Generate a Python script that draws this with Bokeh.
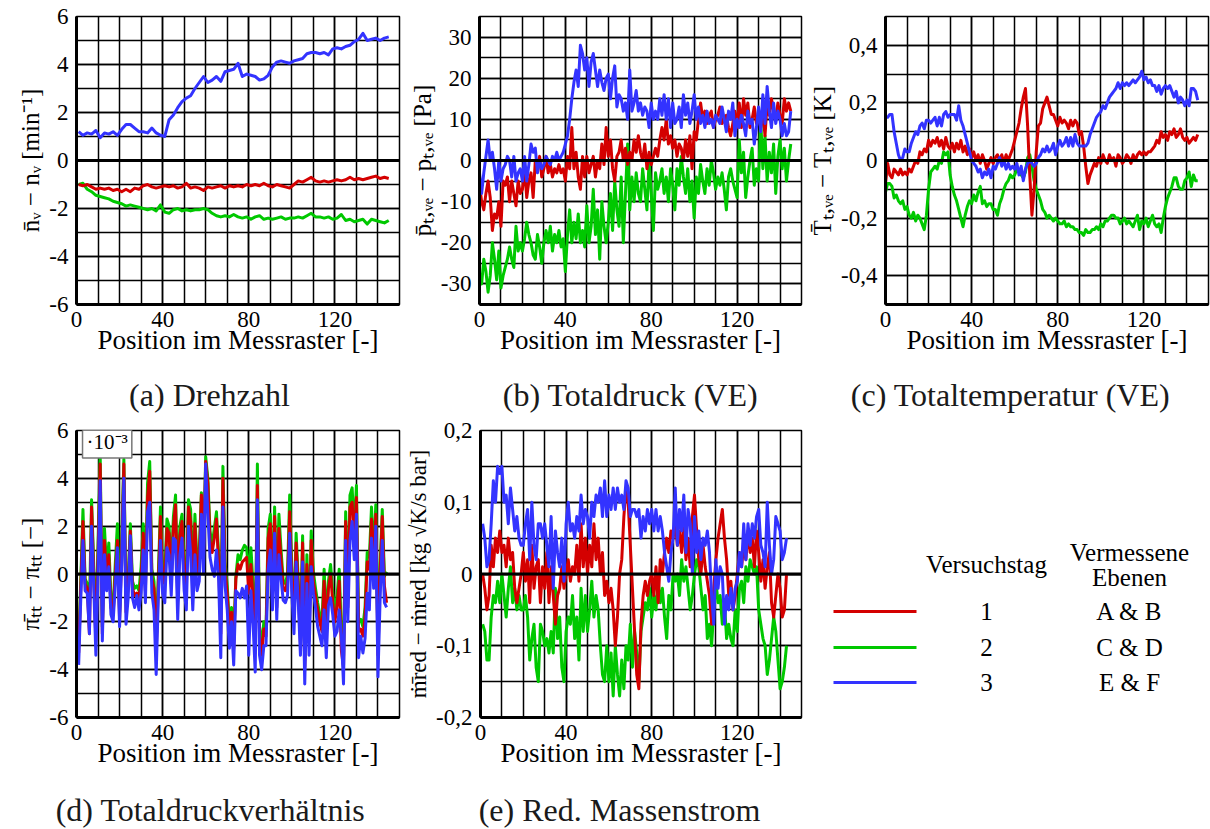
from bokeh.plotting import figure
from bokeh.models import FixedTicker, CustomJSTickFormatter, Span, Label, Range1d
from bokeh.layouts import row, column
from bokeh.embed import file_html
from bokeh.resources import INLINE
from bokeh.core.properties import value

FONT = "Liberation Serif"
RED, GREEN, BLUE = "#d40000", "#00c800", "#3333ff"

# ---------------- legend / caption texts ----------------
days = ["1", "2", "3"]
planes = ["A & B", "C & D", "E & F"]
colors = [RED, GREEN, BLUE]
captions_top = ["(a) Drehzahl", "(b) Totaldruck (VE)", "(c) Totaltemperatur (VE)"]
captions_bottom = ["(d) Totaldruckverhältnis", "(e) Red. Massenstrom"]

# ---------------- (a) Drehzahl, every 2nd position ----------------
a_blue = [1.2, 1.05, 1.15, 1.1, 1.25, 0.95, 1.15, 1.1, 1.2, 1.05, 1.3, 1.5, 1.5, 1.35, 1.2, 1.2, 1.15, 1.35, 1.15, 1.05,
          1.0, 1.7, 1.9, 2.2, 2.45, 2.6, 2.7, 3.0, 3.25, 3.5, 3.25, 3.35, 3.5, 3.3, 3.7, 3.75, 3.8, 4.05, 3.5, 3.6,
          3.55, 3.5, 3.35, 3.4, 3.55, 3.9, 4.1, 4.15, 4.1, 4.05, 4.15, 4.2, 4.25, 4.45, 4.5, 4.5, 4.45, 4.5, 4.4, 4.65,
          4.7, 4.65, 4.75, 4.8, 4.95, 5.05, 5.3, 5.0, 5.05, 5.1, 5.0, 5.1, 5.15]
a_red = [-1.0, -1.05, -1.0, -1.1, -1.2, -1.15, -1.2, -1.15, -1.25, -1.2, -1.3, -1.2, -1.3, -1.15, -1.2, -1.05, -1.0, -1.1, -1.15, -1.1,
         -1.05, -1.1, -1.05, -1.15, -1.1, -0.95, -1.15, -1.1, -1.15, -1.25, -1.1, -1.15, -1.1, -1.05, -1.15, -1.05, -1.1, -1.05, -1.1, -1.0,
         -1.05, -1.0, -1.05, -0.95, -1.05, -1.1, -1.0, -1.05, -1.1, -1.15, -1.0, -0.85, -0.9, -0.8, -0.7, -0.85, -0.9, -0.85, -0.9, -0.85,
         -0.8, -0.85, -0.8, -0.7, -0.8, -0.75, -0.8, -0.75, -0.7, -0.65, -0.75, -0.7, -0.75]
a_green = [-1.0, -0.95, -1.2, -1.3, -1.45, -1.5, -1.55, -1.6, -1.7, -1.75, -1.8, -1.9, -1.85, -1.9, -1.95, -2.0, -2.05, -2.0, -2.1, -1.85,
           -2.15, -2.2, -2.05, -2.0, -2.1, -2.05, -2.1, -2.05, -2.05, -2.0, -2.05, -2.2, -2.3, -2.35, -2.3, -2.35, -2.25, -2.35, -2.4, -2.35,
           -2.45, -2.35, -2.3, -2.45, -2.4, -2.45, -2.4, -2.35, -2.45, -2.4, -2.4, -2.35, -2.4, -2.3, -2.2, -2.35, -2.35, -2.4, -2.35, -2.45,
           -2.4, -2.25, -2.5, -2.45, -2.55, -2.5, -2.45, -2.65, -2.45, -2.5, -2.55, -2.6, -2.5]

# ---------------- (b) Totaldruck (VE), positions 0..145 ----------------
b_blue = [-3, -8, -3, 1, 5, 0, 2, -2, -7, 0, -5, -2, -1, 1, 0, -4, 1, -5, -3, -2,
          -5, 1, -5, -1, 4, 2, 3, -3, 0, -2, -1, 1, 0, -1, 1, 0, 2, 0, 1, 2,
          4, 6, 10, 15, 19, 22, 18, 28, 26, 22, 25, 18, 24, 26, 22, 18, 22, 19, 17, 20,
          21, 15, 20, 23, 13, 16, 15, 12, 14, 10, 22, 12, 14, 17, 12, 14, 11, 13, 12, 8,
          14, 10, 12, 10, 15, 11, 16, 10, 15, 8, 14, 9, 10, 13, 8, 16, 11, 14, 9, 12,
          16, 10, 13, 9, 11, 8, 12, 9, 10, 8, 11, 10, 9, 13, 10, 7, 12, 10, 14, 6,
          10, 8, 11, 9, 6, 12, 9, 10, 4, 8, 13, 7, 16, 9, 18, 12, 8, 14, 9, 12,
          10, 6, 9, 6, 7, 12]
b_red = [-6, -10, -12, -8, -5, -9, -17, -13, -14, -10, -16, -5, -6, -4, -10, -5, -8, -11, -5, -8,
         -7, -2, -9, -5, -3, -9, 0, -2, 1, -4, -2, 1, -3, -1, -4, -2, -3, -1, -3, -2,
         -5, 1, -2, 8, -2, 2, -4, -7, 1, -4, 1, -3, -1, 1, -4, 0, -2, 4, -1, 8,
         1, 5, -2, -5, 1, 2, 5, 0, 3, -1, 2, 0, 5, 2, 6, 2, 0, 4, -2, 2,
         -1, 1, 3, 1, 5, 8, 5, 10, 4, 6, 3, 5, 1, 4, 3, 0, 5, 1, 6, -2,
         7, 5, 10, 14, 10, 12, 9, 11, 12, 8, 10, 11, 13, 9, 10, 11, 8, 6, 9, 12,
         8, 14, 8, 15, 11, 14, 8, 10, 13, 9, 11, 8, 12, 6, 14, 11, 15, 12, 10, 14,
         11, 9, 15, 12, 14, 12]
b_green = [-28, -30, -24, -27, -32, -28, -20, -24, -29, -22, -31, -28, -26, -24, -21, -24, -26, -16, -22, -20,
           -22, -19, -15, -18, -20, -23, -24, -18, -21, -25, -20, -17, -20, -16, -22, -18, -20, -17, -21, -19,
           -27, -18, -12, -20, -15, -19, -13, -20, -17, -21, -11, -20, -16, -7, -18, -12, -24, -10, -16, -20,
           -15, -8, -17, -5, -12, -16, -4, -20, -8, 4, -12, -4, -10, -3, -8, -10, -2, -7, -12, 0,
           -8, -17, -3, -7, -5, -2, -8, -4, -10, -2, -6, -12, -2, -6, 1, -4, -8, -2, -10, -5,
           -14, -4, -8, -1, -5, -8, -2, -6, 0, -3, -7, -4, -6, -3, -7, -12, -4, -2, -5, -7,
           -9, 5, -3, 2, -9, -4, 0, 3, -6, -2, -5, 10, -2, 6, -5, 2, -3, 4, -8, 1,
           5, -2, 3, -5, 0, 4]

# ---------------- (c) Totaltemperatur (VE), positions 0..145 ----------------
c_blue = [0.15, 0.15, 0.16, 0.16, 0.10, 0.06, 0.02, 0.0, 0.01, 0.04, 0.03,
          0.03, 0.06, 0.08, 0.10, 0.09, 0.12, 0.13, 0.11, 0.14, 0.14,
          0.13, 0.14, 0.15, 0.12, 0.15, 0.12, 0.16, 0.17, 0.15, 0.16,
          0.16, 0.16, 0.14, 0.19, 0.14, 0.12, 0.09, 0.06, 0.03, 0.0,
          -0.01, -0.02, -0.04, -0.03, -0.06, -0.04, -0.05, -0.03, -0.06, -0.02,
          -0.03, -0.01, 0.01, -0.02, 0.0, -0.03, -0.01, -0.03, -0.02, -0.03,
          -0.01, -0.05, -0.02, -0.07, -0.03, -0.01, 0.0, -0.01, -0.02, -0.01,
          0.01, 0.02, 0.04, 0.03, 0.05, 0.03, 0.04, 0.06, 0.02, 0.05,
          0.07, 0.05, 0.06, 0.08, 0.05, 0.08, 0.05, 0.09, 0.06, 0.05,
          0.05, 0.05, 0.05, 0.06, 0.09, 0.11, 0.13, 0.15, 0.16, 0.17,
          0.19, 0.18, 0.20, 0.22, 0.23, 0.24, 0.25, 0.27, 0.25, 0.27,
          0.26, 0.27, 0.26, 0.27, 0.28, 0.27, 0.28, 0.29, 0.31, 0.28,
          0.29, 0.27, 0.28, 0.26, 0.26, 0.24, 0.26, 0.23, 0.25, 0.26,
          0.25, 0.26, 0.24, 0.22, 0.24, 0.20, 0.22, 0.21, 0.19, 0.21,
          0.19, 0.25, 0.25, 0.24, 0.21]
c_red = [-0.08, -0.01, -0.05, -0.06, -0.03, -0.04, -0.05, -0.03, -0.05, -0.04, -0.05,
         -0.03, -0.04, -0.02, 0.0, -0.01, 0.03, 0.02, 0.04, 0.03, 0.07,
         0.05, 0.07, 0.06, 0.08, 0.05, 0.07, 0.04, 0.08, 0.05, 0.04,
         0.06, 0.03, 0.06, 0.04, 0.07, 0.03, 0.05, 0.02, 0.04, 0.01,
         0.03, 0.0, 0.02, -0.01, 0.02, 0.0, -0.03, -0.01, 0.01, -0.01,
         0.01, 0.02, 0.0, 0.02, -0.01, 0.02, 0.0, 0.02, 0.04, 0.07,
         0.10, 0.13, 0.18, 0.22, 0.25, 0.12, -0.05, -0.19, -0.10, 0.03,
         0.12, 0.13, 0.18, 0.20, 0.22, 0.19, 0.16, 0.16, 0.14, 0.12,
         0.15, 0.13, 0.14, 0.13, 0.11, 0.14, 0.12, 0.14, 0.13, 0.09,
         0.10, 0.05, -0.02, -0.08, -0.05, -0.03, -0.01, -0.02, 0.01, -0.01,
         0.02, 0.0, -0.01, 0.02, 0.0, 0.01, -0.02, 0.02, 0.01, -0.01,
         0.0, 0.02, 0.01, -0.01, 0.02, 0.0, 0.02, 0.03, 0.02, 0.03,
         0.02, 0.03, 0.03, 0.04, 0.05, 0.07, 0.06, 0.10, 0.08, 0.09,
         0.07, 0.10, 0.09, 0.11, 0.08, 0.09, 0.11, 0.08, 0.07, 0.08,
         0.06, 0.07, 0.08, 0.07, 0.09]
c_green = [-0.11, -0.08, -0.08, -0.09, -0.13, -0.12, -0.14, -0.15, -0.14, -0.17, -0.16,
           -0.19, -0.20, -0.18, -0.21, -0.19, -0.20, -0.22, -0.24, -0.19, -0.10,
           -0.04, -0.03, -0.02, -0.03, 0.0, -0.01, 0.03, 0.02, 0.03, -0.05,
           -0.09, -0.12, -0.14, -0.17, -0.20, -0.23, -0.19, -0.16, -0.14, -0.15,
           -0.12, -0.14, -0.11, -0.09, -0.15, -0.14, -0.16, -0.15, -0.15, -0.17,
           -0.17, -0.19, -0.15, -0.13, -0.10, -0.08, -0.07, -0.05, -0.06, -0.05,
           -0.03, -0.04, -0.05, -0.06, -0.04, 0.01, 0.02, -0.02, -0.07, -0.10,
           -0.12, -0.14, -0.17, -0.18, -0.20, -0.19, -0.20, -0.21, -0.20, -0.21,
           -0.22, -0.22, -0.21, -0.23, -0.22, -0.23, -0.23, -0.24, -0.24, -0.25,
           -0.25, -0.26, -0.24, -0.25, -0.25, -0.24, -0.24, -0.23, -0.24, -0.22,
           -0.23, -0.21, -0.21, -0.20, -0.19, -0.19, -0.20, -0.20, -0.22, -0.21,
           -0.20, -0.22, -0.21, -0.22, -0.23, -0.21, -0.19, -0.24, -0.21, -0.22,
           -0.20, -0.23, -0.21, -0.19, -0.22, -0.23, -0.22, -0.25, -0.20, -0.16,
           -0.13, -0.11, -0.09, -0.06, -0.06, -0.09, -0.10, -0.10, -0.07, -0.06,
           -0.04, -0.09, -0.05, -0.07, -0.07]

# ---------------- (d) Totaldruckverhaeltnis (x 1e-3), positions 1..144 ----------------
d_blue = [-3.8, -1.0, 1.4, -0.7, -0.8, -2.5, 2.0, -0.5, -3.4, 0.0,
          3.9, -2.8, 0.8, -0.7, 0.3, -1.7, -2.0, -0.5, 1.1, -2.2,
          0.5, 4.0, -2.1, -1.0, 1.6, -1.0, -1.4, -0.9, -1.5, -0.8,
          1.0, -1.2, 2.6, 3.0, -0.8, -1.5, -4.2, -1.0, 1.4, -0.8,
          -1.2, 1.1, 0.8, -0.9, 1.5, 1.4, -1.9, 0.8, 1.5, -0.7,
          -1.5, 2.0, 0.9, -1.5, 0.8, -0.7, -0.3, 2.5, 0.0, 4.6,
          2.5, 0.7, 0.2, -0.1, 1.0, -0.2, -3.5, 2.8, -0.5, -1.5,
          -3.1, -2.0, -3.8, -0.7, -0.8, -1.0, -0.6, -1.0, -0.5, -3.4,
          -0.7, -2.1, -4.1, 3.1, -3.4, -4.0, -3.0, -3.0, 0.2, 1.0,
          -1.5, 1.7, -1.9, 0.8, -0.2, -1.1, -1.2, -0.9, 1.7, -0.8,
          -2.5, 0.5, -1.2, -3.4, 0.5, -4.6, -0.4, -3.4, 0.3, -0.8,
          -1.4, -2.2, -2.6, -3.0, -1.5, -3.5, -1.3, -1.0, -1.7, -2.6,
          -2.4, -1.5, -2.6, -4.6, 1.4, -2.0, 1.4, 2.2, 0.6, 2.5,
          -3.5, -2.6, -3.3, -2.7, -0.8, -1.5, 1.5, -0.6, 2.0, -4.3,
          -1.0, 1.4, -1.2, -1.4]
d_red = [-3.3, -0.5, 2.2, -0.4, -0.6, -2.5, 2.8, 0.0, -2.8, 0.8,
         4.6, -2.5, 1.4, -0.2, 0.8, -1.4, -1.7, 0.0, 1.4, -1.9,
         1.0, 4.6, -1.6, -0.5, 1.8, -0.6, -0.9, -0.8, -1.0, -0.2,
         1.7, -0.7, 3.2, 4.3, -0.2, -0.6, -3.3, -0.4, 2.4, -0.3,
         -0.4, 1.9, 1.7, -0.4, 2.0, 2.9, -1.1, 1.6, 2.2, 0.0,
         -0.6, 2.8, 2.2, -0.5, 2.1, 0.0, 0.5, 3.3, 0.8, 4.7,
         3.8, 1.4, 0.9, 1.5, 2.3, 0.4, -2.5, 4.0, 0.2, -0.8,
         -2.4, -1.6, -3.1, -0.2, 0.4, 0.2, 0.5, 0.6, 0.7, -0.8,
         0.4, -1.0, -3.3, 3.7, -2.6, -3.4, -2.3, -2.6, 1.5, 2.1,
         -0.9, 2.4, -1.4, 1.9, 0.6, -0.6, -0.7, -0.3, 2.6, -0.3,
         -1.8, 1.3, -0.6, -2.9, 1.3, -3.9, 0.4, -2.8, 1.4, -0.3,
         -0.9, -1.5, -2.0, -2.4, -0.3, -2.4, -0.6, 0.0, -1.2, -2.0,
         -1.3, -0.3, -3.2, -3.9, 2.2, -1.4, 2.8, 3.0, 1.4, 3.2,
         -2.4, -2.3, -2.6, -1.8, 0.5, 0.2, 2.3, 0.2, 2.5, -3.4,
         0.0, 2.4, -0.5, -1.2]
d_green = [-3.0, -0.2, 2.7, -0.2, -0.4, -1.5, 3.1, 0.4, -2.5, 1.3,
           5.0, -2.2, 1.9, 0.2, 1.3, -1.0, -1.4, 0.4, 2.1, -1.6,
           1.5, 4.8, -1.2, -0.2, 2.1, -0.3, -0.6, -0.5, -0.7, 0.3,
           2.1, -0.3, 3.8, 4.7, 0.2, -0.3, -3.0, 0.0, 2.8, 0.1,
           0.0, 2.3, 2.0, 0.0, 2.4, 3.3, -0.8, 2.0, 2.5, 0.4,
           -0.2, 3.1, 2.7, -0.1, 2.5, 0.4, 0.9, 3.4, 1.1, 4.9,
           4.0, 1.8, 1.2, 1.9, 2.6, 0.8, -2.1, 4.5, 0.5, -0.5,
           -2.1, -1.4, -2.8, -0.1, 0.8, 0.6, 1.0, 1.2, 1.1, 0.0,
           1.1, -0.5, -3.0, 4.6, -2.2, -3.0, -2.0, -2.3, 1.9, 2.5,
           -0.6, 2.8, -1.0, 2.5, 1.0, -0.3, -0.4, 0.0, 3.3, 0.1,
           -1.5, 1.7, -0.3, -2.6, 1.6, -3.6, 0.8, -2.4, 1.8, 0.1,
           -0.6, -1.2, -1.7, -2.0, 0.2, -2.0, -0.3, 0.4, -0.8, -1.5,
           -0.9, 0.2, -2.4, -3.5, 2.6, -1.0, 3.3, 3.6, 1.8, 3.7,
           -2.0, -1.9, -2.2, -1.4, 0.9, 0.7, 2.8, 0.7, 2.9, -3.0,
           0.4, 2.7, -0.1, 0.1]

# ---------------- (e) Red. Massenstrom, positions 1..143 ----------------
e_blue = [0.07, 0.05, 0.01, 0.02, 0.07, 0.13, 0.10, 0.15, 0.14, 0.15,
          0.10, 0.11, 0.07, 0.12, 0.09, 0.06, 0.08, 0.05, 0.04, 0.04,
          0.07, 0.09, 0.02, 0.10, 0.04, 0.02, 0.07, 0.07, 0.05, 0.07,
          0.04, 0.01, 0.08, -0.02, 0.06, 0.03, 0.01, 0.05, -0.01, 0.07,
          0.10, 0.06, 0.07, 0.05, 0.08, 0.06, 0.11, 0.07, 0.09, 0.08,
          0.05, 0.10, 0.08, 0.11, 0.10, 0.12, 0.08, 0.13, 0.08, 0.11,
          0.09, 0.12, 0.09, 0.12, 0.10, 0.11, 0.09, 0.13, 0.12, 0.08,
          0.09, 0.09, 0.08, 0.09, 0.05, 0.08, 0.06, 0.09, 0.07, 0.09,
          0.06, 0.09, 0.06, 0.08, 0.06, 0.03, 0.01, -0.01, 0.03, 0.05,
          0.12, 0.04, 0.09, 0.06, 0.11, 0.03, 0.09, 0.07, 0.00, 0.08,
          0.03, 0.06, 0.02, 0.05, 0.04, 0.06, 0.03, -0.03, -0.07, 0.02,
          -0.02, 0.01, 0.00, -0.07, -0.03, -0.05, -0.02, -0.05, -0.02, -0.01,
          0.03, 0.01, 0.07, 0.02, 0.07, 0.04, 0.07, 0.05, 0.08, 0.09,
          0.04, 0.03, 0.01, 0.10, 0.04, 0.00, 0.02, 0.08, 0.07, 0.06,
          0.02, 0.03, 0.05]
e_red = [0.0, -0.02, -0.05, -0.03, 0.04, 0.01, 0.05, 0.03, 0.06, 0.03,
         0.04, 0.01, 0.05, 0.02, 0.03, -0.02, -0.04, -0.02, 0.0, 0.03,
         -0.01, 0.02, -0.04, 0.04, -0.02, 0.01, 0.02, -0.04, 0.01, -0.02,
         0.03, -0.04, 0.01, -0.03, -0.07, -0.03, -0.02, 0.01, -0.02, 0.0,
         0.02, -0.01, 0.01, 0.0, 0.04, -0.01, 0.07, 0.01, 0.05, 0.0,
         0.04, 0.01, 0.07, 0.02, 0.05, 0.0, 0.03, -0.03, -0.01, -0.04,
         -0.02, -0.05, -0.10, -0.06, 0.0, 0.02, 0.08, 0.12, 0.10, 0.04,
         -0.02, -0.08, -0.14, -0.16, -0.07, -0.03, -0.01, -0.03, -0.01, 0.0,
         -0.03, 0.01, -0.04, 0.02, 0.0, 0.03, 0.05, 0.03, 0.06, 0.05,
         0.07, 0.04, 0.06, 0.03, 0.07, 0.02, 0.05, 0.01, 0.08, 0.11,
         0.06, 0.02, 0.0, 0.04, 0.01, -0.01, -0.03, -0.07, -0.02, 0.02,
         0.05, 0.07, 0.09, 0.05, 0.02, -0.03, -0.01, -0.05, -0.03, 0.0,
         0.03, 0.01, 0.04, 0.02, 0.06, 0.03, 0.05, 0.01, 0.06, 0.03,
         -0.01, 0.02, -0.02, 0.01, 0.03, -0.04, -0.06, -0.03, 0.0, -0.02,
         -0.06, -0.05, 0.0]
e_green = [-0.07, -0.08, -0.12, -0.12, -0.06, -0.03, -0.04, -0.01, -0.04, 0.0,
           -0.03, -0.06, -0.02, 0.01, -0.04, -0.02, -0.05, -0.03, -0.05, -0.05,
           -0.03, -0.06, -0.12, -0.09, -0.07, -0.13, -0.15, -0.07, -0.08, -0.10,
           -0.09, -0.11, -0.08, -0.11, -0.02, -0.09, -0.06, -0.13, -0.15, -0.08,
           -0.06, -0.07, -0.03, -0.09, -0.06, -0.12, -0.02, -0.08, -0.03, -0.08,
           -0.05, -0.01, -0.06, -0.03, -0.05, -0.10, -0.14, -0.15, -0.10, -0.15,
           -0.11, -0.17, -0.10, -0.14, -0.17, -0.12, -0.16, -0.10, -0.12, -0.07,
           -0.13, -0.08, -0.11, -0.15, -0.08, -0.06, -0.04, -0.05, -0.02, -0.06,
           -0.03, -0.05, -0.01, -0.04, -0.02, -0.06, -0.09, -0.03, -0.05, 0.0,
           -0.01, 0.0, -0.03, 0.02, -0.01, 0.01, -0.02, -0.05, -0.03, 0.0,
           0.02, 0.01, -0.02, -0.05, -0.03, -0.09, -0.07, -0.10, -0.05, -0.01,
           -0.04, -0.03, -0.07, -0.04, -0.09, -0.07, -0.09, -0.10, -0.05, -0.08,
           -0.02, -0.01, -0.04, 0.01, -0.01, 0.02, 0.01, 0.0, 0.01, -0.05,
           -0.07, -0.09, -0.10, -0.14, -0.12, -0.09, -0.06, -0.08, -0.12, -0.16,
           -0.15, -0.13, -0.10]


def positions(vals, start, step=1):
    return [start + step * i for i in range(len(vals))]


def comma_fmt(dec):
    return CustomJSTickFormatter(code=f"""
        if (Math.abs(tick) < 1e-9) return '0';
        return tick.toFixed({dec}).replace('.', ',');
    """)


def steps(lo, hi, st):
    n = int(round((hi - lo) / st))
    return [round(lo + i * st, 6) for i in range(n + 1)]


def panel(series, ylim, yticks, ygrid_step, dec, ylabel,
          fw, fh, ml, mr, mt, mb, ylabel_size="25px"):
    p = figure(frame_width=fw, frame_height=fh, x_range=Range1d(0, 150),
               y_range=Range1d(*ylim), min_border_left=ml, min_border_right=mr,
               min_border_top=mt, min_border_bottom=mb,
               output_backend="svg", toolbar_location=None)
    p.background_fill_color = "white"
    p.border_fill_color = "white"
    p.outline_line_color = "black"
    p.outline_line_width = 1.5
    p.outline_line_alpha = 1.0

    p.xaxis.ticker = FixedTicker(ticks=[0, 40, 80, 120], minor_ticks=steps(0, 150, 10))
    p.yaxis.ticker = FixedTicker(ticks=yticks, minor_ticks=steps(ylim[0], ylim[1], ygrid_step))
    p.yaxis.formatter = comma_fmt(dec)
    for g in (p.xgrid, p.ygrid):
        g.grid_line_color = "black"
        g.grid_line_width = 1.5
        g.grid_line_alpha = 1.0
        g.minor_grid_line_color = "black"
        g.minor_grid_line_width = 1.5
    for ax in (p.xaxis, p.yaxis):
        ax.axis_line_width = 3
        ax.axis_line_color = "black"
        ax.major_tick_line_color = None
        ax.minor_tick_line_color = None
        ax.major_tick_out = 0
        ax.major_tick_in = 0
        ax.major_label_text_font = FONT
        ax.major_label_text_font_size = "23px"
        ax.major_label_text_color = "black"
        ax.axis_label_text_font = FONT
        ax.axis_label_text_font_style = "normal"
        ax.axis_label_text_color = "black"
    p.xaxis.axis_label = "Position im Messraster [-]"
    p.xaxis.axis_label_text_font_size = "27px"
    p.xaxis.major_label_standoff = 3
    p.xaxis.axis_label_standoff = -5
    p.yaxis.axis_label = ylabel
    p.yaxis.axis_label_text_font_size = ylabel_size
    p.yaxis.major_label_standoff = 4
    p.yaxis.axis_label_standoff = 2

    p.add_layout(Span(location=0, dimension="width", line_color="black", line_width=3))

    for xs, ys, col in series:
        p.line(xs, ys, line_color=col, line_width=3, line_join="round")
    return p


def caption_strip(texts, centers, height, ymid):
    # a thin text-only figure holding the sub-figure captions (page x coordinates)
    s = figure(frame_width=1210, frame_height=height, x_range=Range1d(0, 1210),
               y_range=Range1d(height, 0), min_border=0,
               x_axis_location=None, y_axis_location=None,
               output_backend="svg", toolbar_location=None)
    s.grid.visible = False
    s.outline_line_color = None
    s.text(x=centers, y=[ymid] * len(texts), text=texts, text_align="center",
           text_baseline="middle", text_font=value(FONT), text_font_size="32px",
           text_color="#1a1a1a")
    return s


fa = panel([(positions(a_green, 1, 2), a_green, GREEN),
            (positions(a_red, 1, 2), a_red, RED),
            (positions(a_blue, 1, 2), a_blue, BLUE)],
           (-6, 6), [-6, -4, -2, 0, 2, 4, 6], 1, 0,
           "n̄ᵥ − nᵥ [min⁻¹]", 323, 288, 76, 4, 16, 60)

fb = panel([(positions(b_green, 0), b_green, GREEN),
            (positions(b_red, 0), b_red, RED),
            (positions(b_blue, 0), b_blue, BLUE)],
           (-35, 35), [-30, -20, -10, 0, 10, 20, 30], 5, 0,
           "p̄ₜ,ᵥₑ − pₜ,ᵥₑ [Pa]", 322, 288, 76, 5, 16, 60)

fc = panel([(positions(c_green, 0), c_green, GREEN),
            (positions(c_red, 0), c_red, RED),
            (positions(c_blue, 0), c_blue, BLUE)],
           (-0.5, 0.5), [-0.4, -0.2, 0, 0.2, 0.4], 0.1, 1,
           "T̄ₜ,ᵥₑ − Tₜ,ᵥₑ [K]", 323, 288, 77, 4, 16, 60)

fd = panel([(positions(d_green, 1), d_green, GREEN),
            (positions(d_red, 1), d_red, RED),
            (positions(d_blue, 1), d_blue, BLUE)],
           (-6, 6), [-6, -4, -2, 0, 2, 4, 6], 1, 0,
           "π̄ₜₜ − πₜₜ [−]", 323, 287, 76, 4, 12, 60)
fd.add_layout(Label(x=2.8, y=4.85, text="·10⁻³", text_font=FONT, text_font_size="21px",
                    text_color="black", padding=4,
                    border_line_color="#777777", border_line_width=1.5,
                    background_fill_color="white", background_fill_alpha=1.0))

fe = panel([(positions(e_green, 1), e_green, GREEN),
            (positions(e_red, 1), e_red, RED),
            (positions(e_blue, 1), e_blue, BLUE)],
           (-0.2, 0.2), [-0.2, -0.1, 0, 0.1, 0.2], 0.05, 1,
           "ṁ̄red − ṁred [kg √K/s bar]", 321, 287, 76, 6, 12, 60, ylabel_size="23px")

# ---------------- legend panel ----------------
leg = figure(frame_width=404, frame_height=347, x_range=Range1d(0, 404), y_range=Range1d(347, 0),
             min_border=0, x_axis_location=None, y_axis_location=None,
             output_backend="svg", toolbar_location=None)
leg.grid.visible = False
leg.outline_line_color = None
row_y = [181, 217, 252]
leg.segment(x0=[26] * 3, x1=[109] * 3, y0=row_y, y1=row_y, line_color=colors, line_width=3)
leg.text(x=[179] * 3, y=row_y, text=days, text_align="center", text_baseline="middle",
         text_font=value(FONT), text_font_size="25px", text_color="black")
leg.text(x=[322] * 3, y=row_y, text=planes, text_align="center", text_baseline="middle",
         text_font=value(FONT), text_font_size="25px", text_color="black")
leg.text(x=[179, 322, 322], y=[134, 122, 147], text=["Versuchstag", "Vermessene", "Ebenen"],
         text_align="center", text_baseline="middle",
         text_font=value(FONT), text_font_size="25px", text_color="black")

cap_top = caption_strip(captions_top, [209, 630, 1010], 54, 30)
cap_bottom = caption_strip(captions_bottom, [210, 619], 52, 32)

layout = column(row(fa, fb, fc), cap_top, row(fd, fe, leg), cap_bottom)

open("out.html", "w").write(file_html(layout, INLINE))
